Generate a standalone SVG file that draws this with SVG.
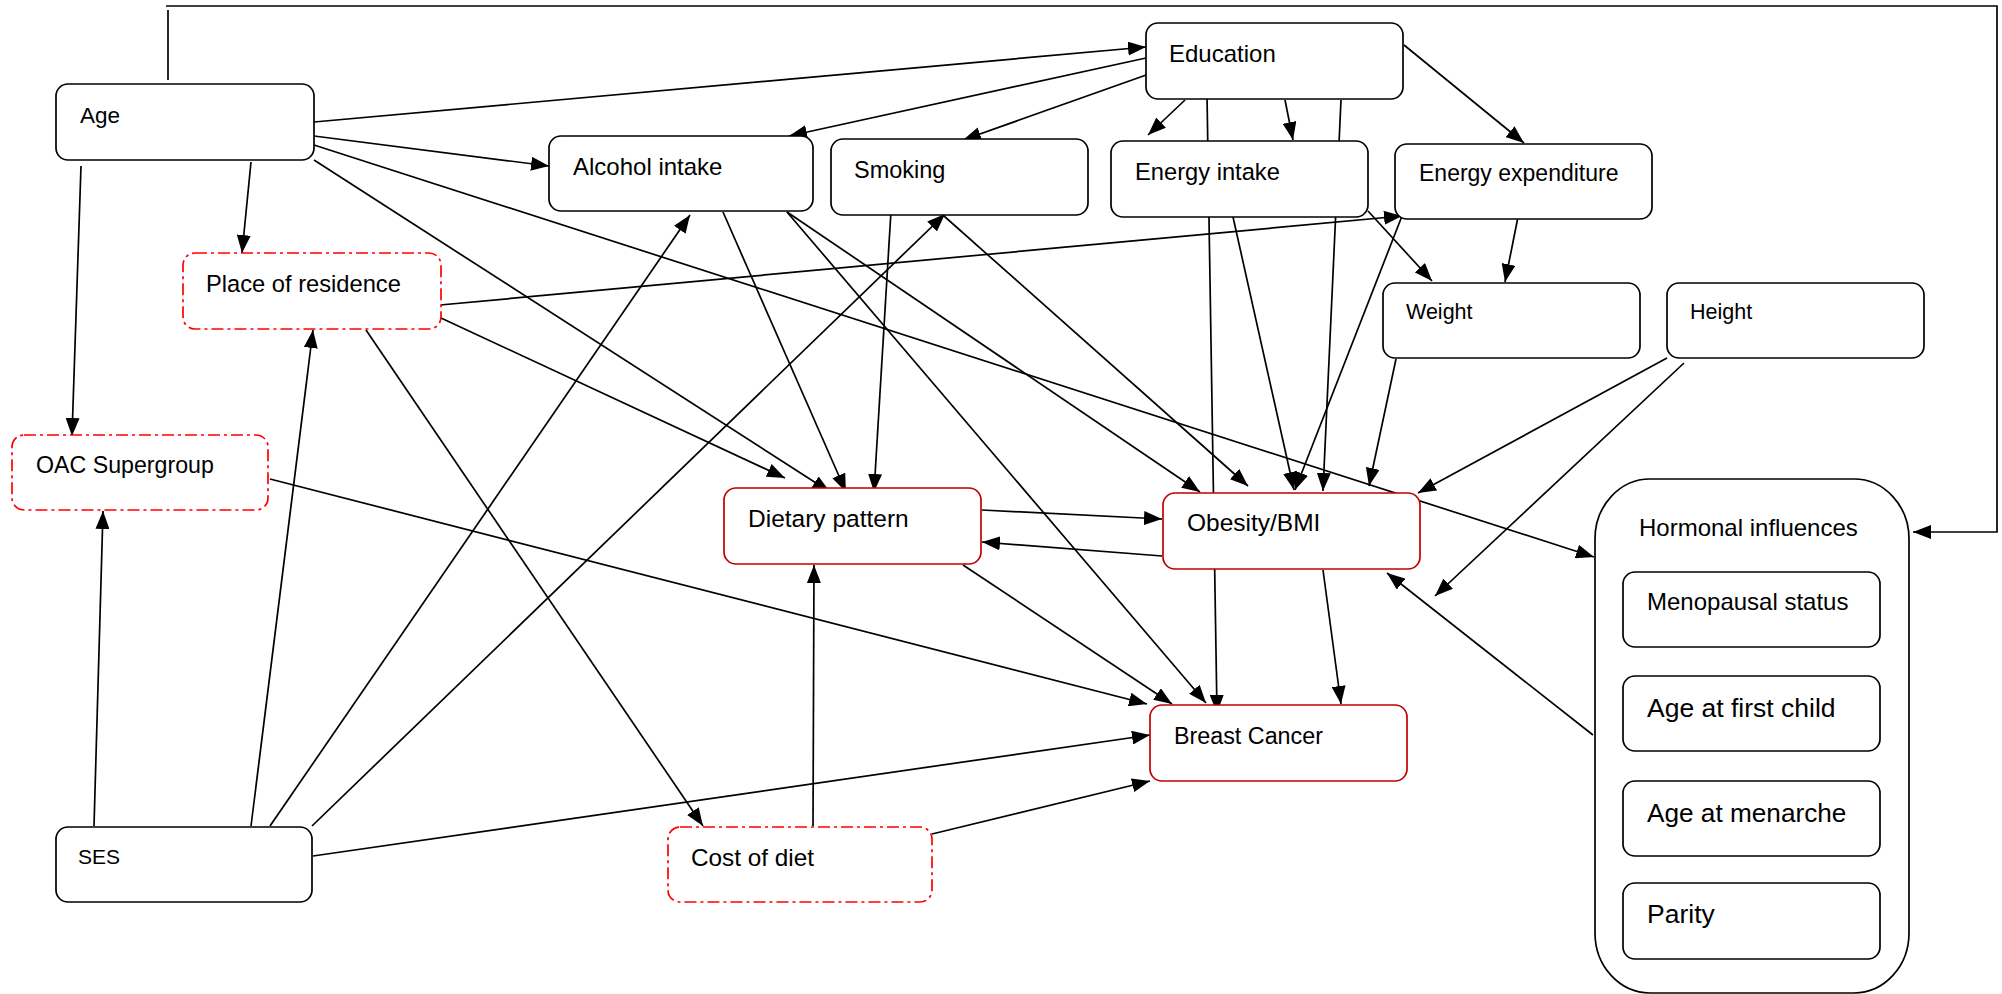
<svg xmlns="http://www.w3.org/2000/svg" width="2002" height="994" viewBox="0 0 2002 994">
<defs>
<marker id="ah" markerUnits="userSpaceOnUse" markerWidth="18" markerHeight="14" refX="18" refY="7" orient="auto">
<path d="M0,0 L18,7 L0,14 z" fill="#000"/>
</marker>
<style>
.c{stroke:#000;stroke-width:1.7;fill:none}
.a{marker-end:url(#ah)}
.n{fill:#fff;stroke:#000;stroke-width:1.7}
.r{fill:#fff;stroke:#c00000;stroke-width:1.7}
.d{fill:#fff;stroke:#ff0000;stroke-width:1.7;stroke-dasharray:12 4 3 4}
text{font-family:"Liberation Sans",Arial,sans-serif;fill:#000}
</style>
</defs>
<rect width="2002" height="994" fill="#fff"/>
<g id="connectors">
<line class="c" x1="168" y1="80" x2="168" y2="10"/>
<polyline class="c a" points="166,6 1997,6 1997,532 1913,532"/>
<line class="c a" x1="314" y1="122" x2="1146" y2="47"/>
<line class="c a" x1="314" y1="136" x2="549" y2="166"/>
<line class="c a" x1="314" y1="145" x2="1594" y2="557"/>
<line class="c a" x1="314" y1="160" x2="830" y2="492"/>
<line class="c a" x1="251" y1="162" x2="242" y2="253"/>
<line class="c a" x1="81" y1="166" x2="72" y2="436"/>
<line class="c a" x1="94" y1="826" x2="103" y2="511"/>
<line class="c a" x1="251" y1="826" x2="313" y2="330"/>
<line class="c a" x1="270" y1="826" x2="690" y2="215"/>
<line class="c a" x1="312" y1="826" x2="945" y2="214"/>
<line class="c a" x1="313" y1="856" x2="1150" y2="735"/>
<line class="c a" x1="932" y1="834" x2="1150" y2="781"/>
<line class="c a" x1="813" y1="826" x2="814" y2="565"/>
<line class="c a" x1="366" y1="330" x2="703" y2="826"/>
<line class="c a" x1="440" y1="305" x2="1402" y2="216"/>
<line class="c a" x1="441" y1="318" x2="785" y2="478"/>
<line class="c a" x1="270" y1="479" x2="1147" y2="704"/>
<line class="c a" x1="723" y1="212" x2="846" y2="492"/>
<line class="c a" x1="787" y1="212" x2="1200" y2="492"/>
<line class="c a" x1="787" y1="212" x2="1206" y2="703"/>
<line class="c a" x1="891" y1="211" x2="874" y2="492"/>
<line class="c a" x1="944" y1="216" x2="1248" y2="486"/>
<line class="c a" x1="1146" y1="58" x2="789" y2="136"/>
<line class="c a" x1="1149" y1="74" x2="963" y2="140"/>
<line class="c a" x1="1185" y1="100" x2="1148" y2="135"/>
<line class="c a" x1="1285" y1="100" x2="1293" y2="140"/>
<line class="c a" x1="1207" y1="95" x2="1217" y2="713"/>
<line class="c a" x1="1341" y1="100" x2="1323" y2="491"/>
<line class="c a" x1="1404" y1="45" x2="1524" y2="143"/>
<line class="c a" x1="1233" y1="217" x2="1294" y2="490"/>
<line class="c a" x1="1368" y1="211" x2="1432" y2="281"/>
<line class="c a" x1="1518" y1="217" x2="1505" y2="282"/>
<line class="c a" x1="1402" y1="216" x2="1295" y2="490"/>
<line class="c a" x1="1396" y1="359" x2="1369" y2="486"/>
<line class="c a" x1="1667" y1="358" x2="1418" y2="493"/>
<line class="c a" x1="1684" y1="363" x2="1435" y2="596"/>
<line class="c a" x1="1593" y1="735" x2="1387" y2="573"/>
<line class="c a" x1="982" y1="510" x2="1162" y2="519"/>
<line class="c a" x1="1162" y1="556" x2="982" y2="542"/>
<line class="c a" x1="963" y1="565" x2="1172" y2="704"/>
<line class="c a" x1="1323" y1="570" x2="1341" y2="704"/>
</g>
<g id="age"><rect class="n" x="56" y="84" width="258" height="76" rx="12"/><text x="80" y="123" font-size="22.5">Age</text></g>
<g id="education"><rect class="n" x="1146" y="23" width="257" height="76" rx="12"/><text x="1169" y="62" font-size="24">Education</text></g>
<g id="alcohol"><rect class="n" x="549" y="136" width="264" height="75" rx="12"/><text x="573" y="175" font-size="24">Alcohol intake</text></g>
<g id="smoking"><rect class="n" x="831" y="139" width="257" height="76" rx="12"/><text x="854" y="178" font-size="23.5">Smoking</text></g>
<g id="energy-intake"><rect class="n" x="1111" y="141" width="257" height="76" rx="12"/><text x="1135" y="180" font-size="23.7">Energy intake</text></g>
<g id="energy-expenditure"><rect class="n" x="1395" y="144" width="257" height="75" rx="12"/><text x="1419" y="181" font-size="23">Energy expenditure</text></g>
<g id="weight"><rect class="n" x="1383" y="283" width="257" height="75" rx="12"/><text x="1406" y="319" font-size="21.5">Weight</text></g>
<g id="height"><rect class="n" x="1667" y="283" width="257" height="75" rx="12"/><text x="1690" y="319" font-size="21.5">Height</text></g>
<g id="place-of-residence"><rect class="d" x="183" y="253" width="258" height="76" rx="12"/><text x="206" y="292" font-size="23.7">Place of residence</text></g>
<g id="oac-supergroup"><rect class="d" x="12" y="435" width="256" height="75" rx="12"/><text x="36" y="473" font-size="23.2">OAC Supergroup</text></g>
<g id="dietary-pattern"><rect class="r" x="724" y="488" width="257" height="76" rx="12"/><text x="748" y="527" font-size="24.5">Dietary pattern</text></g>
<g id="obesity-bmi"><rect class="r" x="1163" y="493" width="257" height="76" rx="12"/><text x="1187" y="531" font-size="24.5">Obesity/BMI</text></g>
<g id="breast-cancer"><rect class="r" x="1150" y="705" width="257" height="76" rx="12"/><text x="1174" y="744" font-size="23.3">Breast Cancer</text></g>
<g id="ses"><rect class="n" x="56" y="827" width="256" height="75" rx="12"/><text x="78" y="864" font-size="21">SES</text></g>
<g id="cost-of-diet"><rect class="d" x="668" y="827" width="264" height="75" rx="12"/><text x="691" y="866" font-size="24.3">Cost of diet</text></g>
<g id="hormonal-influences">
<rect class="n" x="1595" y="479" width="314" height="514" rx="55" ry="60"/>
<text x="1639" y="536" font-size="24">Hormonal influences</text>
<g id="menopausal-status"><rect class="n" x="1623" y="572" width="257" height="75" rx="12"/><text x="1647" y="610" font-size="24">Menopausal status</text></g>
<g id="age-first-child"><rect class="n" x="1623" y="676" width="257" height="75" rx="12"/><text x="1647" y="717" font-size="26.5">Age at first child</text></g>
<g id="age-menarche"><rect class="n" x="1623" y="781" width="257" height="75" rx="12"/><text x="1647" y="822" font-size="26.2">Age at menarche</text></g>
<g id="parity"><rect class="n" x="1623" y="883" width="257" height="76" rx="12"/><text x="1647" y="923" font-size="26.5">Parity</text></g>
</g>
</svg>
